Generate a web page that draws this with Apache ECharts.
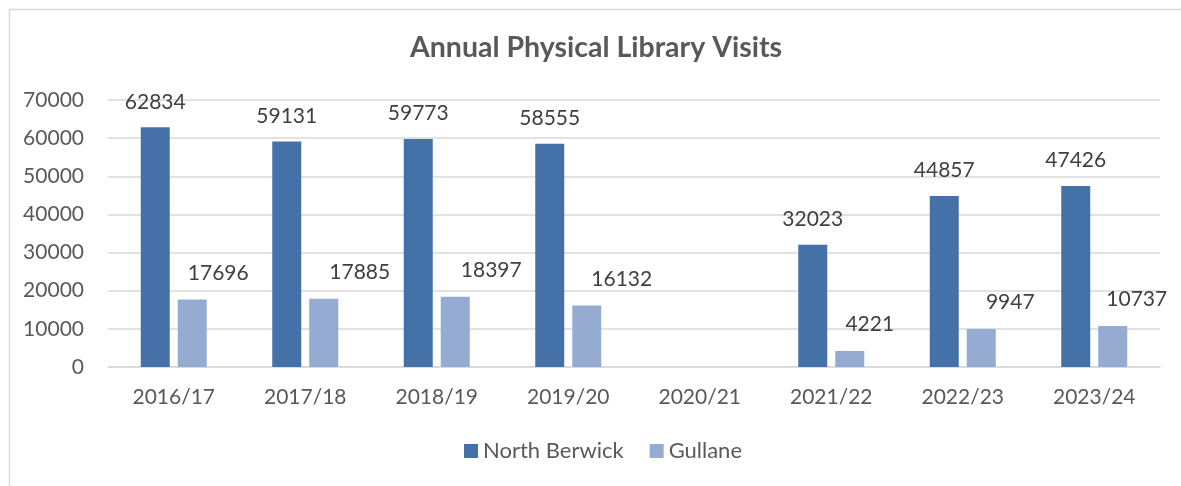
<!DOCTYPE html>
<html>
<head>
<meta charset="utf-8">
<script src="https://cdn.jsdelivr.net/npm/echarts@6/dist/echarts.min.js"></script>
<style>
html,body{margin:0;padding:0;background:#fff;}
#c{width:1181px;height:486px;}
</style>
</head>
<body>
<div id="c"></div>
<script>
const categories = ['2016/17','2017/18','2018/19','2019/20','2020/21','2021/22','2022/23','2023/24'];
const northBerwick = [62834, 59131, 59773, 58555, null, 32023, 44857, 47426];
const gullane = [17696, 17885, 18397, 16132, null, 4221, 9947, 10737];
const yTicks = {min: 0, max: 70000, interval: 10000};

// layout only: horizontal label shift for Gullane labels (px)
const gullaneLabelDx = [26, 36, 36, 35, 0, 20, 29, 24];

const FONT = 'Lato';
const chart = echarts.init(document.getElementById('c'));
chart.setOption({
  backgroundColor: '#fff',
  animation: false,
  graphic: [{
    type: 'rect', left: 7, top: 7, silent: true,
    shape: {width: 1200, height: 500},
    style: {fill: 'none', stroke: '#d9d9d9', lineWidth: 1.5}
  }],
  title: {
    text: 'Annual Physical Library Visits',
    left: 410, top: 33, padding: 0,
    textStyle: {fontFamily: FONT, fontWeight: 'bold', fontSize: 28.5, color: '#595959'}
  },
  legend: {
    bottom: 19, left: 459,
    itemWidth: 14, itemHeight: 14, itemGap: 26,
    icon: 'rect',
    textStyle: {fontFamily: FONT, fontSize: 22, color: '#595959'},
    data: ['North Berwick', 'Gullane']
  },
  grid: {left: 108, right: 21, top: 100, bottom: 119, containLabel: false},
  xAxis: {
    type: 'category', data: categories,
    axisLine: {lineStyle: {color: '#d9d9d9', width: 1.5}},
    axisTick: {show: false},
    axisLabel: {fontFamily: FONT, fontSize: 21, color: '#595959', margin: 20}
  },
  yAxis: {
    type: 'value', min: yTicks.min, max: yTicks.max, interval: yTicks.interval,
    axisLine: {show: false}, axisTick: {show: false},
    splitLine: {lineStyle: {color: '#d9d9d9', width: 1.5}},
    axisLabel: {fontFamily: FONT, fontSize: 21, color: '#595959', margin: 24,
      formatter: v => String(v)}
  },
  series: [
    {
      name: 'North Berwick', type: 'bar', data: northBerwick,
      barWidth: 29, barGap: '27.6%',
      itemStyle: {color: '#4472a8'},
      label: {show: true, position: 'top', distance: 15,
        fontFamily: FONT, fontSize: 21, color: '#404040'}
    },
    {
      name: 'Gullane', type: 'bar', barWidth: 29,
      data: gullane.map((v, i) => ({
        value: v,
        label: {offset: [gullaneLabelDx[i], 0]}
      })),
      itemStyle: {color: '#95abd2'},
      label: {show: true, position: 'top', distance: 16,
        fontFamily: FONT, fontSize: 21, color: '#404040'}
    }
  ]
});
</script>
</body>
</html>
